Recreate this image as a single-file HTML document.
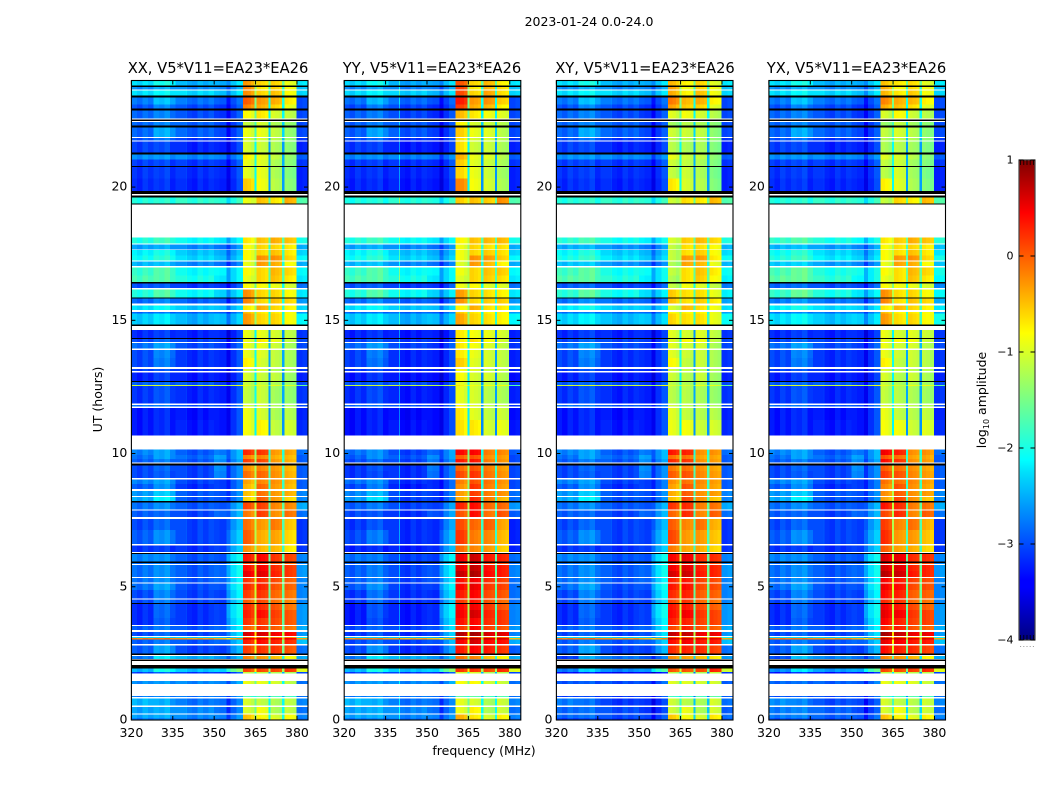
<!DOCTYPE html>
<html>
<head>
<meta charset="utf-8">
<title>2023-01-24 0.0-24.0</title>
<style>
html,body{margin:0;padding:0;background:#fff;}
svg{display:block;}
text{font-family:"DejaVu Sans","Liberation Sans",sans-serif;fill:#000;}
</style>
</head>
<body>
<svg id="figure" xmlns="http://www.w3.org/2000/svg" width="1050" height="800" viewBox="0 0 1050 800">
  <defs>
    <linearGradient id="jet-gradient" x1="0" y1="1" x2="0" y2="0">
      <stop offset="0" stop-color="#00007f"/>
      <stop offset="0.11" stop-color="#0000ff"/>
      <stop offset="0.125" stop-color="#0000ff"/>
      <stop offset="0.35" stop-color="#00e0fb"/>
      <stop offset="0.375" stop-color="#00ffff"/>
      <stop offset="0.64" stop-color="#ffff00"/>
      <stop offset="0.89" stop-color="#ff0000"/>
      <stop offset="1" stop-color="#7f0000"/>
    </linearGradient>
  </defs>
  <text x="589" y="26" font-size="12.5" text-anchor="middle">2023-01-24 0.0-24.0</text>
  <text x="218" y="73" font-size="14.7" text-anchor="middle">XX, V5*V11=EA23*EA26</text>
  <text x="432" y="73" font-size="14.7" text-anchor="middle">YY, V5*V11=EA23*EA26</text>
  <text x="645" y="73" font-size="14.7" text-anchor="middle">XY, V5*V11=EA23*EA26</text>
  <text x="856.5" y="73" font-size="14.7" text-anchor="middle">YX, V5*V11=EA23*EA26</text>
  <text x="0" y="0" font-size="12.5" text-anchor="middle" transform="translate(102,399.5) rotate(-90)">UT (hours)</text>
  <text x="484" y="755" font-size="12.5" text-anchor="middle">frequency (MHz)</text>
  <text x="0" y="0" font-size="12.5" text-anchor="middle" transform="translate(986,400) rotate(-90)">log<tspan font-size="8" dy="3">10</tspan><tspan dy="-3"> amplitude</tspan></text>
  <g id="panels"></g>
  <g id="colorbar">
    <rect x="1019" y="160" width="16" height="480" fill="url(#jet-gradient)"/>
  </g>
</svg>
<script>
// ---- categories ----
const panelNames = ['xx', 'yy', 'xy', 'yx'];
const xTicks = [320, 335, 350, 365, 380];
const yTicks = [0, 5, 10, 15, 20];
const colorTicks = [1, 0, -1, -2, -3, -4];
const colorMinorTicks = [0.1, 0.3, 0.5, 0.7, 0.9];

// Channel edges in MHz
const channelEdges = [320,322,324,326,328,330,332,334,336,338,339.8,340.2,342,344,346,348,350,352,354.5,356,358,360.4,
  362,363.4,364.6,365.4,367,368.4,369.6,370.4,372,373.4,374.6,375.4,377,378.4,379.8,382,384];
// Band each channel belongs to: 0-4 left spectrum, 5-8 sub-bands, 9 right edge, 10 sub-band gaps
const channelBand = [0,0,0,0,1,1,1,1,2,2,2,2,2,2,2,2,3,3,4,4,4,
  5,5,5,10,6,6,6,10,7,7,7,10,8,8,8,9,9];
// Fine vertical streaks of each channel (log10 offset)
const channelStreak = [0.05,-0.05,0.1,0,0.1,0.05,0.15,-0.05,0.05,0.05,0.1,-0.05,-0.1,0.05,-0.05,0.05,0,-0.05,-0.3,0,0.2,
  0.05,0,-0.1,0.5,0.05,0,-0.05,0,0.05,0,-0.05,0,0.05,0,-0.05,-0.05,0];

// Time blocks (hours) with base levels:
// start, end, L1, L2, L3, L4, L5, S1, S2, S3, S4, R, gap
const rowLevels = [
[23.81,24.00,-2.2,-2.0,-2.4,-2.4,-2.3,-0.4,-0.7,-0.7,-1.0,-2.2,-1.5],
[23.66,23.76,-2.6,-2.5,-2.6,-2.6,-2.6,-0.3,-0.8,-0.7,-0.9,-2.4,-1.8],
[23.44,23.63,-2.2,-2.1,-2.2,-2.3,-2.3,-0.35,-0.7,-0.6,-0.9,-2.3,-1.7],
[23.10,23.36,-2.7,-2.4,-2.7,-2.8,-2.9,-0.1,-0.4,-0.5,-0.8,-3.0,-1.9],
[22.95,23.10,-2.9,-2.7,-2.9,-3.0,-3.0,-0.3,-0.5,-0.7,-1.0,-3.0,-2.0],
[22.58,22.88,-2.8,-2.7,-2.9,-3.0,-3.0,-0.9,-0.8,-1.1,-1.2,-3.0,-2.0],
[22.31,22.44,-2.8,-2.7,-2.8,-2.9,-3.0,-1.2,-1.1,-1.3,-1.4,-3.0,-2.2],
[21.88,22.24,-2.8,-2.5,-2.8,-2.9,-3.0,-1.0,-1.0,-1.2,-1.4,-3.0,-2.2],
[21.75,21.84,-2.9,-2.8,-3.0,-3.0,-3.0,-1.1,-1.1,-1.25,-1.4,-3.1,-2.3],
[21.30,21.71,-3.0,-3.0,-3.1,-3.1,-3.1,-1.1,-1.15,-1.3,-1.45,-3.2,-2.5],
[21.04,21.23,-2.6,-2.6,-2.6,-2.6,-2.7,-0.85,-1.0,-1.2,-1.4,-2.9,-2.4],
[20.79,21.04,-3.0,-3.0,-3.0,-3.0,-3.0,-1.0,-1.05,-1.3,-1.45,-3.1,-2.4],
[20.33,20.76,-3.05,-3.05,-3.05,-3.05,-3.05,-1.05,-1.0,-1.3,-1.5,-3.2,-2.5],
[19.86,20.33,-3.1,-3.1,-3.1,-3.1,-3.1,-0.65,-0.95,-1.25,-1.45,-3.2,-2.5],
[19.39,19.61,-1.9,-1.9,-1.8,-1.8,-1.9,-1.0,-0.6,-0.8,-0.5,-1.7,-1.5],
[17.89,18.11,-1.7,-1.6,-1.8,-1.9,-2.0,-0.8,-0.6,-0.5,-0.6,-1.9,-1.4],
[17.66,17.85,-2.3,-2.3,-2.4,-2.5,-2.5,-0.9,-0.7,-0.7,-0.8,-2.4,-1.6],
[17.44,17.63,-1.9,-1.8,-2.1,-2.2,-2.3,-0.9,-0.7,-0.6,-0.8,-2.2,-1.5],
[17.25,17.44,-1.8,-1.7,-2.0,-2.1,-2.2,-0.9,-0.35,-0.35,-0.7,-2.0,-1.5],
[17.03,17.21,-2.2,-2.2,-2.4,-2.5,-2.6,-1.0,-0.4,-0.5,-0.9,-2.4,-1.7],
[16.69,16.99,-1.6,-1.5,-1.8,-1.8,-2.0,-0.9,-0.7,-0.55,-0.7,-2.0,-1.4],
[16.43,16.69,-1.5,-1.5,-1.7,-1.9,-2.0,-1.0,-0.7,-0.6,-0.8,-2.1,-1.4],
[16.22,16.39,-2.7,-2.7,-2.8,-2.8,-2.8,-0.9,-0.9,-1.0,-1.1,-2.7,-1.8],
[15.86,16.16,-1.7,-1.5,-1.8,-2.0,-2.1,-0.35,-0.7,-0.7,-0.9,-2.1,-1.5],
[15.64,15.83,-2.6,-2.5,-2.6,-2.6,-2.7,-0.3,-0.7,-0.6,-0.7,-2.5,-1.7],
[15.38,15.56,-2.0,-1.9,-2.1,-2.1,-2.2,-0.8,-0.5,-0.7,-0.85,-2.2,-1.6],
[15.26,15.32,-2.6,-2.6,-2.6,-2.6,-2.6,-0.6,-0.8,-0.8,-0.9,-2.5,-1.8],
[14.85,15.26,-2.1,-2.0,-2.2,-2.1,-2.2,-0.4,-0.7,-0.7,-0.9,-2.0,-1.6],
[14.33,14.63,-3.05,-3.0,-3.05,-3.0,-3.1,-1.0,-1.0,-1.1,-1.2,-3.1,-2.5],
[14.18,14.29,-2.9,-2.8,-2.9,-2.9,-3.0,-1.0,-0.8,-1.0,-1.2,-3.0,-2.4],
[13.95,14.14,-2.7,-2.5,-2.85,-2.9,-2.9,-1.0,-1.0,-1.15,-1.3,-3.0,-2.3],
[13.58,13.89,-2.9,-2.65,-3.0,-3.0,-3.0,-1.0,-1.05,-1.2,-1.3,-3.1,-2.4],
[13.24,13.58,-2.9,-2.7,-3.0,-3.0,-3.0,-0.85,-1.1,-1.2,-1.3,-3.1,-2.4],
[13.09,13.18,-2.95,-2.9,-3.0,-3.0,-3.0,-1.1,-1.1,-1.3,-1.3,-3.1,-2.4],
[12.73,13.05,-3.1,-3.0,-3.1,-3.1,-3.1,-1.1,-1.15,-1.2,-1.35,-3.2,-2.5],
[12.58,12.69,-2.8,-2.8,-2.8,-2.9,-2.9,-1.2,-1.2,-1.3,-1.4,-3.0,-2.4],
[12.53,12.58,-1.0,-1.0,-1.0,-1.0,-1.0,-1.0,-1.0,-1.0,-1.0,-1.6,-1.6],
[11.87,12.53,-3.0,-2.9,-3.05,-3.05,-3.0,-1.2,-1.15,-1.35,-1.4,-3.1,-2.4],
[11.76,11.83,-2.7,-2.7,-2.8,-2.8,-2.8,-1.1,-1.1,-1.3,-1.3,-3.0,-2.4],
[11.25,11.70,-3.15,-3.1,-3.15,-3.1,-3.0,-1.0,-1.1,-1.3,-1.25,-3.2,-2.5],
[10.67,11.25,-3.15,-3.1,-3.1,-3.1,-3.0,-0.95,-0.85,-1.2,-1.1,-3.15,-2.5],
[9.94,10.16,-2.6,-2.5,-2.8,-2.6,-2.5,0.15,0.1,-0.4,-0.45,-2.7,-1.8],
[9.80,9.94,-2.7,-2.5,-2.7,-2.4,-2.5,-0.3,-0.3,-0.5,-0.55,-2.8,-1.7],
[9.66,9.80,-2.8,-2.7,-2.8,-2.5,-2.6,0.05,0.0,-0.4,-0.5,-2.8,-1.7],
[9.34,9.56,-2.9,-2.8,-2.9,-2.5,-2.7,-0.35,-0.3,-0.4,-0.55,-2.8,-1.6],
[9.09,9.34,-2.9,-2.85,-2.9,-2.55,-2.7,-0.2,-0.15,-0.35,-0.5,-2.8,-1.6],
[8.85,9.02,-2.6,-2.5,-2.9,-2.9,-2.8,-0.45,-0.3,-0.35,-0.5,-2.8,-1.7],
[8.67,8.85,-2.8,-2.6,-3.0,-2.9,-2.8,-0.55,-0.15,-0.4,-0.55,-2.8,-1.7],
[8.41,8.59,-2.5,-2.3,-2.8,-2.8,-2.7,-0.6,-0.2,-0.4,-0.5,-2.6,-1.6],
[8.22,8.36,-2.4,-2.1,-2.8,-2.8,-2.7,-0.7,-0.1,-0.4,-0.7,-2.6,-1.6],
[7.90,8.16,-2.7,-2.6,-2.8,-2.8,-2.5,0.0,0.05,-0.3,-0.3,-2.4,-1.5],
[7.61,7.86,-2.8,-2.8,-2.9,-2.7,-2.5,-0.25,0.05,-0.35,-0.2,-2.7,-1.6],
[7.13,7.55,-2.9,-2.8,-2.9,-2.9,-2.5,-0.2,-0.4,-0.25,-0.6,-3.0,-1.6],
[6.60,7.13,-2.8,-2.6,-2.9,-2.9,-2.4,-0.1,-0.5,-0.45,-0.7,-3.0,-1.6],
[6.30,6.54,-3.0,-3.0,-3.0,-2.9,-2.4,-0.35,-0.55,-0.55,-0.8,-3.0,-1.7],
[5.95,6.24,-2.6,-2.6,-2.8,-2.8,-2.1,0.25,0.35,0.1,0.05,-2.6,-1.5],
[5.86,5.90,-2.7,-2.7,-2.8,-2.8,-2.2,0.0,0.1,-0.1,-0.1,-2.6,-1.5],
[5.59,5.82,-2.7,-2.6,-2.8,-2.7,-2.1,0.3,0.4,0.15,0.1,-2.5,-1.5],
[5.36,5.59,-2.7,-2.6,-2.8,-2.7,-2.1,0.45,0.5,0.2,0.1,-2.5,-1.4],
[5.16,5.33,-2.7,-2.6,-2.8,-2.7,-2.2,0.1,0.15,0.0,-0.1,-2.6,-1.4],
[4.88,5.12,-2.7,-2.5,-2.85,-2.8,-2.1,0.15,0.2,-0.05,-0.1,-2.6,-1.4],
[4.56,4.88,-2.9,-2.65,-2.9,-2.9,-2.2,0.05,0.1,-0.15,-0.2,-2.6,-1.5],
[4.40,4.53,-2.9,-2.7,-2.9,-2.9,-2.3,-0.1,0.0,-0.2,-0.3,-2.6,-1.5],
[4.13,4.36,-3.05,-2.8,-3.0,-2.9,-2.1,0.15,0.15,-0.05,-0.2,-2.5,-1.5],
[3.83,4.13,-3.05,-2.8,-3.0,-2.9,-2.1,0.2,0.3,0.05,-0.05,-2.5,-1.5],
[3.56,3.83,-3.05,-2.85,-3.0,-2.9,-2.2,0.1,0.1,0.0,-0.05,-2.5,-1.5],
[3.38,3.53,-2.8,-2.7,-2.8,-2.7,-2.2,-0.1,0.1,-0.1,-0.2,-2.4,-1.5],
[3.15,3.31,-2.9,-2.8,-2.9,-2.8,-2.3,0.55,0.55,0.4,0.35,-2.5,-1.1],
[3.08,3.11,-2.2,-2.2,-2.2,-2.2,-2.2,-0.2,-0.2,-0.3,-0.3,-2.0,-1.2],
[3.02,3.08,-0.1,-0.1,-0.2,-0.3,-0.3,0.5,0.5,0.45,0.4,-0.3,-0.3],
[2.85,3.02,-2.8,-2.7,-2.8,-2.7,-2.4,0.2,0.3,0.2,0.15,-2.3,-1.3],
[2.50,2.80,-2.8,-2.5,-2.9,-2.9,-2.5,0.05,0.1,0.1,-0.05,-2.7,-1.4],
[2.28,2.41,-2.7,-2.2,-2.4,-2.5,-2.5,-0.3,-0.4,-0.6,-0.9,-2.5,-1.9],
[1.81,1.94,-2.4,-2.0,-2.3,-2.2,-1.5,0.0,0.0,0.0,0.1,-1.0,-1.2],
[1.75,1.81,-3.0,-2.9,-3.0,-3.0,-3.0,-1.2,-1.2,-1.3,-1.3,-3.0,-2.4],
[1.36,1.46,-2.6,-2.6,-2.6,-2.6,-2.6,-1.0,-1.0,-1.1,-1.2,-2.8,-2.0],
[0.86,0.90,-2.7,-2.7,-2.7,-2.7,-2.7,-1.8,-1.8,-1.8,-1.8,-2.8,-2.4],
[0.54,0.81,-2.4,-2.5,-2.7,-2.7,-2.8,-1.1,-1.2,-1.3,-1.2,-2.7,-2.0],
[0.25,0.49,-2.5,-2.5,-2.6,-2.7,-2.8,-1.1,-0.95,-1.3,-1.2,-2.8,-2.0],
[0.08,0.21,-2.5,-2.5,-2.6,-2.6,-2.7,-0.6,-0.9,-1.1,-0.9,-2.7,-1.9],
[0.00,0.08,-2.7,-2.7,-2.7,-2.7,-2.7,-0.6,-0.8,-1.0,-0.9,-2.8,-1.9]
];

// Flagged (black) blocks in hours
const flaggedRows = [[23.76,23.81],[23.36,23.44],[22.88,22.95],[22.48,22.54],[22.24,22.31],[21.23,21.30],[20.76,20.79],
  [19.74,19.86],[19.61,19.69],[19.35,19.39],[16.39,16.43],[15.83,15.86],[14.79,14.85],[14.29,14.33],[12.69,12.73],
  [9.56,9.62],[8.16,8.22],[6.24,6.26],[5.90,5.95],[4.36,4.40],[2.44,2.50],[2.22,2.28],[1.94,2.06]];

// Polarisation offsets per epoch
const epochEnds = [2.5, 10.2, 14.7, 18.2, 24];
// group columns: left, S1, S2, S3, S4, right
const offsetXX = [[-0.1,0,0,0,0,0],[-0.15,0,0,0,0,-0.1],[-0.15,0,0,0,0,0],[-0.3,0,0,0,0,-0.1],[-0.1,0,0,0,0,0]];
const offsetYY = [[-0.1,0.1,0.1,0,0.05,0],[-0.25,0.2,0.25,0.15,0.15,-0.2],[-0.2,0.2,0.05,0.1,0.1,-0.1],[-0.3,-0.05,0,-0.05,0.05,-0.1],[-0.15,0.35,0,0.15,0.15,0]];
const offsetXY = [[-0.4,-0.05,-0.05,0,0.1,-0.1],[-0.15,0.1,0.1,0.05,0.1,-0.1],[-0.15,-0.05,-0.1,0.05,0,0],[-0.25,-0.3,-0.05,-0.05,-0.1,-0.05],[-0.1,-0.15,-0.15,0,-0.05,0]];
const offsetYX = [[-0.3,0,0,0.05,0.05,0],[-0.15,0.25,0.1,0.05,0.1,-0.1],[-0.15,0,-0.1,0.05,0.05,0],[-0.2,0,-0.05,0,0,0],[-0.1,-0.2,-0.1,-0.05,-0.05,0]];
const panelOffsets = [offsetXX, offsetYY, offsetXY, offsetYX];
// Faint interference line on the YY panel near 340 MHz (channel index, level boost)
const panelLineChannel = [-1, 10, -1, -1];
const panelLineBoost = [0, 0.5, 0, 0];

// ---- geometry / axis functions ----
const SVGNS = 'http://www.w3.org/2000/svg';
const plotTop = 80.5, plotBottom = 720, plotWidth = 176.6;
const panelLeft = i => (i === 1 ? 344.2 : 131.4 + 212.5 * i);
const xScale = (f, i) => panelLeft(i) + (f - 320) / 64 * plotWidth;
const yScale = h => plotBottom - h / 24 * (plotBottom - plotTop);
const colorY = v => 640 - (v + 4) / 5 * 480;
function jet(v) {
  const t = Math.max(0, Math.min(1, (v + 4) / 5));
  const f = c => Math.round(255 * Math.max(0, Math.min(1, 1.5 - Math.abs(4 * t - c))));
  return 'rgb(' + f(3) + ',' + f(2) + ',' + f(1) + ')';
}
const groupOfBand = [0, 0, 0, 0, 0, 1, 2, 3, 4, 5, 0];
function epochOf(h) {
  for (let e = 0; e < epochEnds.length; e++) { if (h <= epochEnds[e]) return e; }
  return epochEnds.length - 1;
}
function svgEl(tag, parent) {
  const el = document.createElementNS(SVGNS, tag);
  parent.appendChild(el);
  return el;
}

const panelsRoot = document.getElementById('panels');
panelNames.forEach(function (name, p) {
  const g = svgEl('g', panelsRoot);
  
  

  const cells = svgEl('g', g);
  
  
  cells.setAttribute('shape-rendering', 'crispEdges');

  rowLevels.forEach(function (row) {
    const h0 = row[0], h1 = row[1];
    const off = panelOffsets[p][epochOf((h0 + h1) / 2)];
    for (let c = 0; c < channelBand.length; c++) {
      const band = channelBand[c];
      let level = row[2 + band] + channelStreak[c] + off[groupOfBand[band]];
      if (c === panelLineChannel[p]) level += panelLineBoost[p];
      const x0 = xScale(channelEdges[c], p);
      const x1 = xScale(channelEdges[c + 1], p);
      const cell = svgEl('rect', cells);
      
      
      cell.setAttribute('x', x0.toFixed(2));
      cell.setAttribute('y', yScale(h1).toFixed(2));
      cell.setAttribute('width', (x1 - x0).toFixed(2));
      cell.setAttribute('height', (yScale(h0) - yScale(h1)).toFixed(2));
      cell.setAttribute('fill', jet(level));
    }
  });

  flaggedRows.forEach(function (span) {
    const flagged = svgEl('rect', cells);
    
    
    flagged.setAttribute('x', xScale(320, p).toFixed(2));
    flagged.setAttribute('y', yScale(span[1]).toFixed(2));
    flagged.setAttribute('width', plotWidth);
    flagged.setAttribute('height', Math.max(1, yScale(span[0]) - yScale(span[1])).toFixed(2));
    flagged.setAttribute('fill', '#000');
  });

  const frame = svgEl('rect', g);
  
  
  frame.setAttribute('x', panelLeft(p).toFixed(2));
  frame.setAttribute('y', plotTop);
  frame.setAttribute('width', plotWidth);
  frame.setAttribute('height', plotBottom - plotTop);
  frame.setAttribute('fill', 'none');
  frame.setAttribute('stroke', '#000');
  frame.setAttribute('stroke-width', '1.1');

  xTicks.forEach(function (f) {
    const x = xScale(f, p);
    [[plotBottom, plotBottom - 4], [plotTop, plotTop + 4]].forEach(function (pair) {
      const t = svgEl('line', g);
      
      
      t.setAttribute('x1', x.toFixed(2));
      t.setAttribute('x2', x.toFixed(2));
      t.setAttribute('y1', pair[0]);
      t.setAttribute('y2', pair[1]);
      t.setAttribute('stroke', '#000');
    });
    const label = svgEl('text', g);
    
    
    label.setAttribute('x', x.toFixed(2));
    label.setAttribute('y', 737);
    label.setAttribute('font-size', '12.5');
    label.setAttribute('text-anchor', 'middle');
    label.textContent = String(f);
  });

  yTicks.forEach(function (h) {
    const y = yScale(h);
    const left = panelLeft(p);
    [[left, left + 4], [left + plotWidth, left + plotWidth - 4]].forEach(function (pair) {
      const t = svgEl('line', g);
      
      
      t.setAttribute('x1', pair[0].toFixed(2));
      t.setAttribute('x2', pair[1].toFixed(2));
      t.setAttribute('y1', y.toFixed(2));
      t.setAttribute('y2', y.toFixed(2));
      t.setAttribute('stroke', '#000');
    });
    const label = svgEl('text', g);
    
    
    label.setAttribute('x', (left - 4).toFixed(2));
    label.setAttribute('y', (y + 3.5).toFixed(2));
    label.setAttribute('font-size', '12.5');
    label.setAttribute('text-anchor', 'end');
    label.textContent = String(h);
  });
});

// ---- colorbar ----
const bar = document.getElementById('colorbar');
const barFrame = svgEl('rect', bar);


barFrame.setAttribute('x', 1019);
barFrame.setAttribute('y', 160);
barFrame.setAttribute('width', 16);
barFrame.setAttribute('height', 480);
barFrame.setAttribute('fill', 'none');
barFrame.setAttribute('stroke', '#444');
barFrame.setAttribute('stroke-width', '1.2');

colorTicks.forEach(function (v) {
  const y = colorY(v);
  [[1019, 1023.5], [1035, 1030.5]].forEach(function (pair) {
    const t = svgEl('line', bar);
    
    
    t.setAttribute('x1', pair[0]);
    t.setAttribute('x2', pair[1]);
    t.setAttribute('y1', y);
    t.setAttribute('y2', y);
    t.setAttribute('stroke', '#000');
  });
  const label = svgEl('text', bar);
  
  
  label.setAttribute('x', 1013.5);
  label.setAttribute('y', y + 3.5);
  label.setAttribute('font-size', '11');
  label.setAttribute('text-anchor', 'end');
  label.textContent = v < 0 ? '\u2212' + Math.abs(v) : String(v);
});

colorMinorTicks.forEach(function (frac) {
  const x = 1019 + frac * 16;
  [[160, 165], [640, 635]].forEach(function (pair) {
    const t = svgEl('line', bar);
    
    
    t.setAttribute('x1', x);
    t.setAttribute('x2', x);
    t.setAttribute('y1', pair[0]);
    t.setAttribute('y2', pair[1]);
    t.setAttribute('stroke', '#000');
    t.setAttribute('stroke-width', '0.8');
  });
  const dot = svgEl('rect', bar);
  
  
  dot.setAttribute('x', x - 0.5);
  dot.setAttribute('y', 646);
  dot.setAttribute('width', 1);
  dot.setAttribute('height', 1);
  dot.setAttribute('fill', '#999');
});
</script>
</body>
</html>
